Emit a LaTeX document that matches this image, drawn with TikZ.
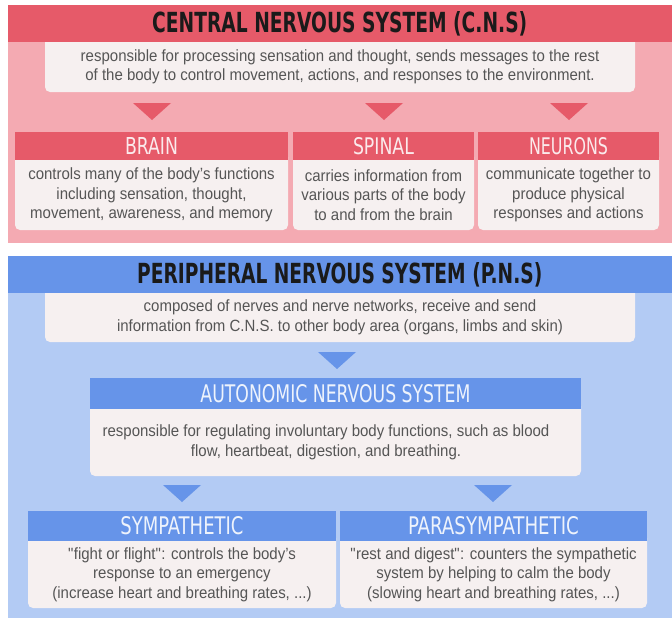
\documentclass[tikz,border=0pt]{standalone}
\usepackage{fontspec}
\setmainfont{Liberation Sans}[FakeStretch=0.92]
\newfontfamily\hdfont{DejaVu Sans Condensed}
\usepackage{graphicx}
\definecolor{cnsred}{HTML}{E65A69}
\definecolor{cnspink}{HTML}{F4AAB2}
\definecolor{pnsblue}{HTML}{6694E9}
\definecolor{pnslight}{HTML}{B3CBF4}
\definecolor{boxfill}{HTML}{F6F0F0}
\definecolor{txtgray}{HTML}{555555}
\definecolor{hdtitle}{HTML}{1A1A1A}
\definecolor{hdlight}{HTML}{FBEAEC}
\definecolor{hdlightb}{HTML}{EEF3FC}
\newcommand\hd[3]{\resizebox{#1pt}{#2pt}{\hdfont #3}}
\newcommand\hdb[3]{\resizebox{#1pt}{#2pt}{\hdfont\bfseries #3}}
\newcommand\qq{\textquotedbl}
\pgfdeclarelayer{panel}
\pgfdeclarelayer{bodybg}
\pgfsetlayers{panel,bodybg,main}
\tikzset{
  box/.style={inner sep=0pt, outer sep=0pt, anchor=north west, align=center},
  bodytxt/.style={box, text=txtgray, font=\fontsize{16.3}{19.5}\selectfont},
  title/.style={box, text=hdtitle},
  subred/.style={box, fill=cnsred, text=hdlight},
  subblue/.style={box, fill=pnsblue, text=hdlightb},
}
\newcommand\bodybg[1]{\begin{pgfonlayer}{bodybg}\fill[boxfill, rounded corners=5pt] ([yshift=8pt]#1.north west) rectangle (#1.south east);\end{pgfonlayer}}
\newcommand\downtri[3]{\fill[#3] (#1-19,#2) -- (#1+19,#2) -- (#1,#2+17) -- cycle;}
\begin{document}
\begin{tikzpicture}[x=1pt,y=-1pt]
\useasboundingbox (0,0) rectangle (672,618);
\begin{pgfonlayer}{panel}
\fill[white] (0,0) rectangle (672,618);
\fill[cnspink] (7.5,5) rectangle (672,243);
\fill[pnslight] (7.5,256) rectangle (672,618);
\end{pgfonlayer}

% ---------- CNS ----------
\node[bodytxt, minimum width=590pt, minimum height=50pt] (cnsd) at (45,42)
  {responsible for processing sensation and thought, sends messages to the rest\\
   of the body to control movement, actions, and responses to the environment.};
\bodybg{cnsd}
\node[title, fill=cnsred, minimum width=664.5pt, minimum height=37pt] (cnsh) at (7.5,5)
  {\hdb{375}{21}{CENTRAL NERVOUS SYSTEM (C.N.S)}};
\downtri{152}{103}{cnsred}
\downtri{384}{103}{cnsred}
\downtri{569}{103}{cnsred}

\node[subred, minimum width=273pt, minimum height=28pt] (brainh) at (15,132) {\hd{53}{17}{BRAIN}};
\node[subred, minimum width=181pt, minimum height=28pt] (spinalh) at (293,132) {\hd{61}{17}{SPINAL}};
\node[subred, minimum width=181pt, minimum height=28pt] (neuronsh) at (478,132) {\hd{79}{17}{NEURONS}};

\node[bodytxt, minimum width=273pt, minimum height=70pt] (brainb) at (brainh.south west)
  {controls many of the body's functions\\ including sensation, thought,\\ movement, awareness, and memory};
\node[bodytxt, minimum width=181pt, minimum height=70pt] (spinalb) at (spinalh.south west)
  {carries information from\\ various parts of the body\\ to and from the brain};
\node[bodytxt, minimum width=181pt, minimum height=70pt] (neuronsb) at (neuronsh.south west)
  {communicate together to\\ produce physical\\ responses and actions};
\bodybg{brainb}\bodybg{spinalb}\bodybg{neuronsb}

% ---------- PNS ----------
\node[bodytxt, minimum width=590pt, minimum height=49pt] (pnsd) at (45,293)
  {composed of nerves and nerve networks, receive and send\\
   information from C.N.S. to other body area (organs, limbs and skin)};
\bodybg{pnsd}
\node[title, fill=pnsblue, minimum width=664.5pt, minimum height=37pt] (pnsh) at (7.5,256)
  {\hdb{405}{21}{PERIPHERAL NERVOUS SYSTEM (P.N.S)}};
\downtri{337}{352}{pnsblue}

\node[subblue, minimum width=491pt, minimum height=31pt] (anh) at (90,378) {\hd{270}{18}{AUTONOMIC NERVOUS SYSTEM}};
\node[bodytxt, minimum width=472pt, minimum height=67pt] (anb) at (anh.south west)
  {responsible for regulating involuntary body functions, such as blood\\
   flow, heartbeat, digestion, and breathing.};
\coordinate (anbse) at (anh.south east |- anb.south);
\begin{pgfonlayer}{bodybg}\fill[boxfill, rounded corners=5pt] ([yshift=8pt]anb.north west) rectangle (anbse);\end{pgfonlayer}
\downtri{182}{485}{pnsblue}
\downtri{493}{485}{pnsblue}

\node[subblue, minimum width=308pt, minimum height=30pt] (symh) at (28,511) {\hd{123}{18}{SYMPATHETIC}};
\node[subblue, minimum width=307pt, minimum height=30pt] (parah) at (340,511) {\hd{171}{18}{PARASYMPATHETIC}};
\node[bodytxt, minimum width=308pt, minimum height=67pt] (symb) at (symh.south west)
  {\qq fight or flight\qq: controls the body's\\ response to an emergency\\ (increase heart and breathing rates, ...)};
\node[bodytxt, minimum width=307pt, minimum height=67pt] (parab) at (parah.south west)
  {\qq rest and digest\qq: counters the sympathetic\\ system by helping to calm the body\\ (slowing heart and breathing rates, ...)};
\bodybg{symb}\bodybg{parab}
\end{tikzpicture}
\end{document}
